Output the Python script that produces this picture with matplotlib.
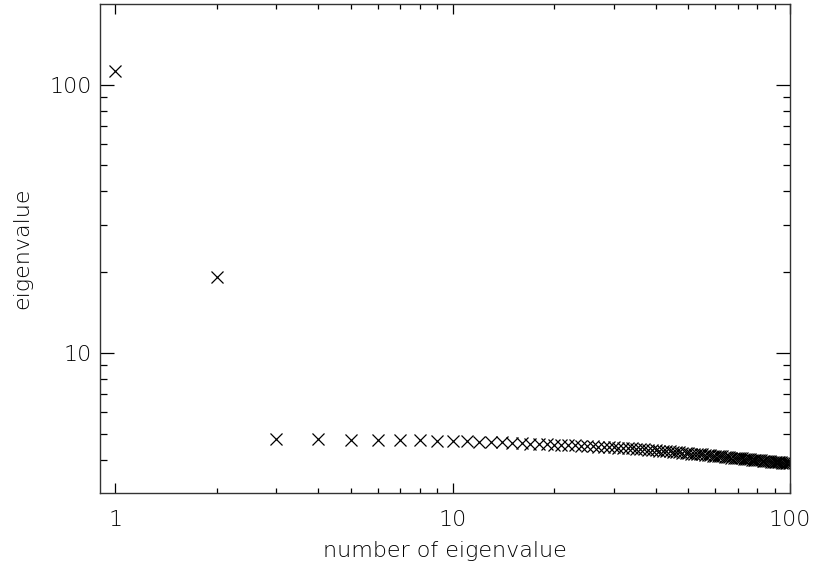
import matplotlib
matplotlib.use("Agg")
import matplotlib.pyplot as plt
from matplotlib.ticker import FixedLocator, NullFormatter

# Eigenvalue spectrum: eigenvalue index and magnitude
index = list(range(1, 101))
eigenvalues = [
    112.8, 19.2,
    4.78, 4.77, 4.75, 4.74, 4.73, 4.71, 4.70, 4.68,
    4.67, 4.65, 4.64, 4.63, 4.61, 4.60, 4.59, 4.58, 4.56, 4.55,
    4.54, 4.53, 4.52, 4.51, 4.50, 4.48, 4.47, 4.46, 4.45, 4.44,
    4.43, 4.42, 4.41, 4.40, 4.38, 4.37, 4.36, 4.35, 4.34, 4.33,
    4.32, 4.31, 4.30, 4.29, 4.27, 4.26, 4.25, 4.24, 4.23, 4.22,
    4.21, 4.20, 4.19, 4.18, 4.18, 4.17, 4.16, 4.15, 4.14, 4.13,
    4.12, 4.11, 4.11, 4.10, 4.09, 4.08, 4.07, 4.07, 4.06, 4.05,
    4.04, 4.04, 4.03, 4.02, 4.02, 4.01, 4.00, 3.99, 3.99, 3.98,
    3.97, 3.97, 3.96, 3.96, 3.95, 3.94, 3.94, 3.93, 3.93, 3.92,
    3.91, 3.91, 3.90, 3.90, 3.89, 3.89, 3.88, 3.88, 3.87, 3.87,
]

x_major = [1, 10, 100]
x_labels = ["1", "10", "100"]
x_minor = [2, 3, 4, 5, 6, 7, 8, 9, 20, 30, 40, 50, 60, 70, 80, 90]
y_major = [10, 100]
y_labels = ["10", "100"]
y_minor = [4, 5, 6, 7, 8, 9, 20, 30, 40, 50, 60, 70, 80, 90]

fig = plt.figure(figsize=(8.13, 5.65), dpi=100)
ax = fig.add_axes([0.123, 0.1274, 0.8487, 0.8655])

ax.plot(index, eigenvalues, linestyle="none", marker="x", color="black",
        markersize=8.5, markeredgewidth=0.9)

ax.set_xscale("log")
ax.set_yscale("log")
ax.set_xlim(0.9, 100)
ax.set_ylim(3, 200)

ax.xaxis.set_major_locator(FixedLocator(x_major))
ax.xaxis.set_minor_locator(FixedLocator(x_minor))
ax.yaxis.set_major_locator(FixedLocator(y_major))
ax.yaxis.set_minor_locator(FixedLocator(y_minor))
ax.set_xticklabels(x_labels)
ax.set_yticklabels(y_labels)
ax.xaxis.set_minor_formatter(NullFormatter())
ax.yaxis.set_minor_formatter(NullFormatter())

label_font = dict(family="DejaVu Sans", weight="light")
for lab in ax.get_xticklabels() + ax.get_yticklabels():
    lab.set_fontsize(16)
    lab.set_fontweight("light")

ax.tick_params(axis="x", which="major", direction="in", length=7.2, width=0.9,
               top=True, bottom=True, pad=12)
ax.tick_params(axis="x", which="minor", direction="in", length=3.5, width=0.9,
               top=True, bottom=True)
ax.tick_params(axis="y", which="major", direction="in", length=10, width=0.9,
               left=True, right=True, pad=6)
ax.tick_params(axis="y", which="minor", direction="in", length=5, width=0.9,
               left=True, right=True)

for sp in ax.spines.values():
    sp.set_linewidth(1.0)
    sp.set_color("#333333")

ax.set_xlabel("number of eigenvalue", fontsize=16, labelpad=8, **label_font)
ax.set_ylabel("eigenvalue", fontsize=16, labelpad=12, **label_font)

fig.savefig("out.png", dpi=100)
